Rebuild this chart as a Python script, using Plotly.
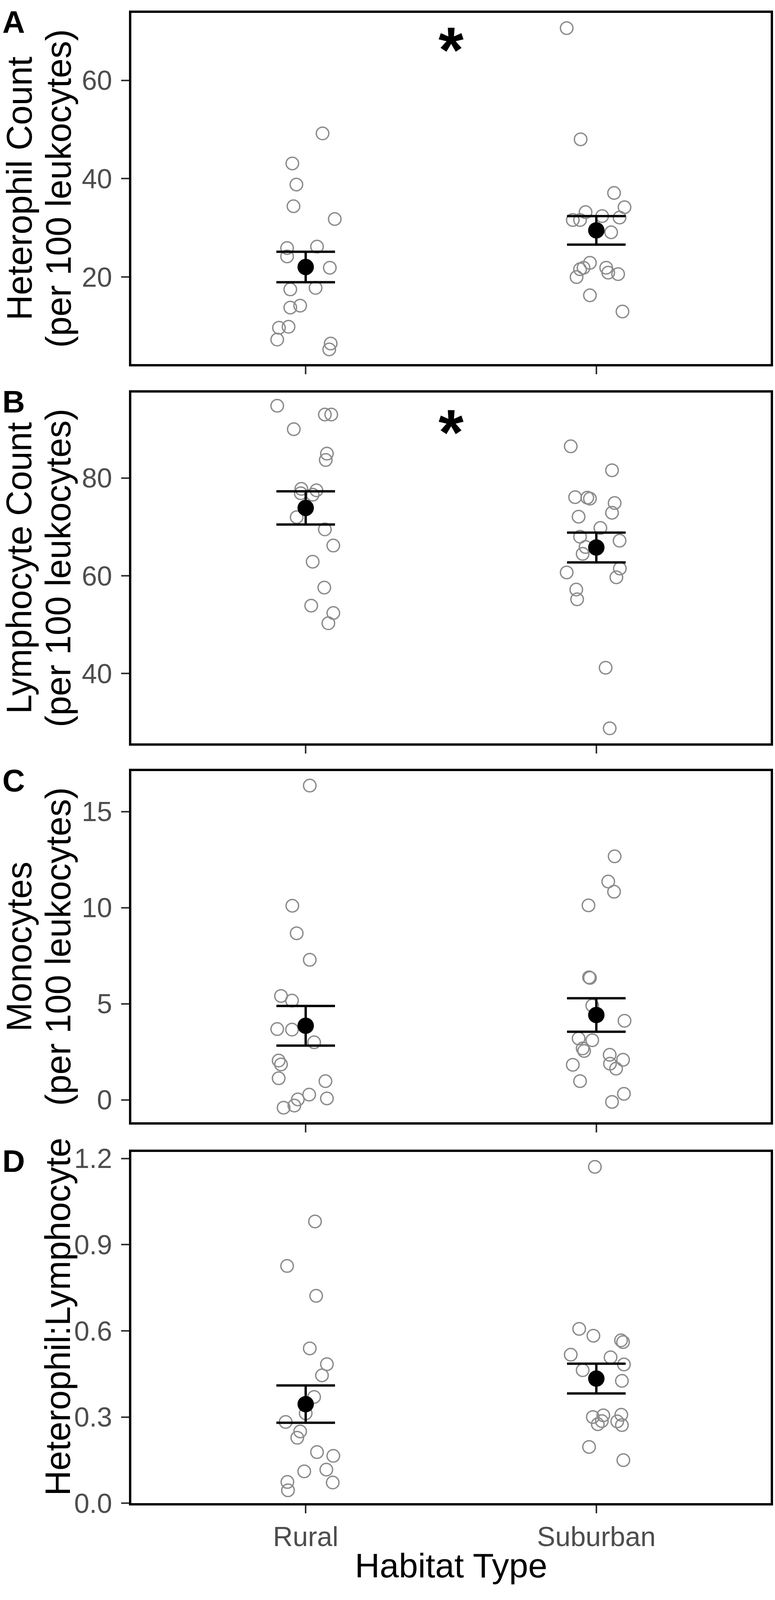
import plotly.graph_objects as go

W, H = 1983, 4389

# ---- data ----
categories = ["Rural", "Suburban"]

# A: heterophils
het_rural = [49.2, 43.1, 38.8, 34.4, 31.8, 25.9, 26.2, 24.2, 21.9, 17.5, 17.8, 14.2, 13.8, 9.9, 9.7, 7.3, 6.5, 5.3]
het_rural_jit = [0.058, -0.046, -0.032, -0.042, 0.100, -0.064, 0.039, -0.064, 0.083, -0.053, 0.034, -0.019, -0.053, -0.059, -0.092, -0.098, 0.086, 0.081]
het_sub = [70.6, 48.0, 37.1, 34.2, 33.2, 31.6, 31.6, 32.4, 32.1, 29.1, 22.9, 21.6, 21.9, 21.9, 20.9, 20.6, 20.0, 16.3, 13.0]
het_sub_jit = [-0.102, -0.054, 0.061, 0.097, -0.037, -0.081, -0.056, 0.020, 0.080, 0.051, -0.022, -0.056, -0.044, 0.034, 0.041, 0.075, -0.068, -0.022, 0.090]
het_mean = [22.05, 29.5]
het_se = [3.1, 2.9]

# B: lymphocytes
lym_rural = [94.8, 93.0, 93.0, 90.0, 85.0, 83.7, 77.8, 77.5, 76.9, 76.6, 72.0, 69.5, 66.2, 62.9, 57.6, 53.9, 52.4, 50.3]
lym_rural_jit = [-0.098, 0.066, 0.088, -0.041, 0.073, 0.069, -0.015, 0.037, -0.017, 0.024, -0.031, 0.066, 0.095, 0.024, 0.064, 0.019, 0.095, 0.078]
lym_sub = [86.5, 81.6, 76.1, 76.0, 75.8, 74.9, 72.9, 72.1, 69.8, 68.0, 67.2, 65.9, 64.5, 61.5, 60.7, 59.7, 57.2, 55.2, 41.2, 28.8]
lym_sub_jit = [-0.088, 0.054, -0.073, -0.031, -0.022, 0.063, 0.054, -0.061, 0.014, -0.056, 0.080, -0.037, -0.047, 0.081, -0.102, 0.069, -0.069, -0.066, 0.032, 0.046]
lym_mean = [73.9, 65.8]
lym_se = [3.4, 3.05]

# C: monocytes
mon_rural = [16.35, 10.1, 8.67, 7.29, 5.41, 5.17, 3.69, 3.66, 3.0, 2.05, 1.85, 1.13, 0.98, 0.28, 0.03, 0.08, -0.29, -0.40]
mon_rural_jit = [0.014, -0.046, -0.031, 0.014, -0.085, -0.047, -0.098, -0.047, 0.029, -0.093, -0.085, -0.093, 0.068, 0.012, -0.027, 0.073, -0.039, -0.076]
mon_sub = [12.67, 11.36, 10.83, 10.12, 6.38, 6.35, 4.91, 4.12, 3.2, 3.11, 2.68, 2.55, 2.35, 2.09, 1.89, 1.63, 1.83, 0.98, 0.32, -0.10]
mon_sub_jit = [0.063, 0.041, 0.061, -0.027, -0.025, -0.022, -0.014, 0.097, -0.061, -0.014, -0.047, -0.042, 0.046, 0.092, 0.047, 0.068, -0.081, -0.056, 0.095, 0.054]
mon_mean = [3.86, 4.42]
mon_se = [1.03, 0.87]

# D: H:L ratio
hl_rural = [0.981, 0.826, 0.722, 0.539, 0.484, 0.445, 0.370, 0.313, 0.283, 0.250, 0.228, 0.178, 0.165, 0.117, 0.111, 0.074, 0.072, 0.045]
hl_rural_jit = [0.032, -0.064, 0.036, 0.014, 0.073, 0.056, 0.029, 0.0, -0.069, -0.019, -0.029, 0.039, 0.095, 0.071, -0.005, -0.063, 0.093, -0.061]
hl_sub = [1.171, 0.607, 0.583, 0.567, 0.561, 0.517, 0.508, 0.483, 0.463, 0.426, 0.306, 0.300, 0.308, 0.286, 0.275, 0.285, 0.272, 0.196, 0.150]
hl_sub_jit = [-0.005, -0.059, -0.010, 0.085, 0.092, -0.088, 0.049, 0.095, -0.047, 0.088, 0.024, -0.012, 0.086, 0.019, 0.005, 0.072, 0.088, -0.025, 0.093]
hl_mean = [0.345, 0.434]
hl_se = [0.065, 0.052]

panels = [
    dict(letter="A", rural=het_rural, rjit=het_rural_jit, sub=het_sub, sjit=het_sub_jit,
         mean=het_mean, se=het_se, yrange=[2.3, 73.7], ticks=[20, 40, 60], fmt="",
         title=["Heterophil Count", "(per 100 leukocytes)"], star=67.5, top=13, bottom=991),
    dict(letter="B", rural=lym_rural, rjit=lym_rural_jit, sub=lym_sub, sjit=lym_sub_jit,
         mean=lym_mean, se=lym_se, yrange=[25.7, 97.5], ticks=[40, 60, 80], fmt="",
         title=["Lymphocyte Count", "(per 100 leukocytes)"], star=90.7, top=1070, bottom=2047),
    dict(letter="C", rural=mon_rural, rjit=mon_rural_jit, sub=mon_sub, sjit=mon_sub_jit,
         mean=mon_mean, se=mon_se, yrange=[-1.15, 17.1], ticks=[0, 5, 10, 15], fmt="",
         title=["Monocytes", "(per 100 leukocytes)"], star=None, top=2124, bottom=3101),
    dict(letter="D", rural=hl_rural, rjit=hl_rural_jit, sub=hl_sub, sjit=hl_sub_jit,
         mean=hl_mean, se=hl_se, yrange=[0, 1.223], ticks=[0, 0.3, 0.6, 0.9, 1.2], fmt=".1f",
         title=["Heterophil:Lymphocyte"], star=None, top=3184, bottom=4162),
]

FONT = "Liberation Sans"
TICKCOL = "#4d4d4d"
PTCOL = "#8c8c8c"


def py(p):
    return 1 - p / H


fig = go.Figure()
annotations = []
layout = {}

for i, p in enumerate(panels, start=1):
    xa, ya = "x%d" % i, "y%d" % i
    fig.add_trace(go.Scatter(
        x=[1 + j for j in p["rjit"]], y=p["rural"], xaxis=xa, yaxis=ya, mode="markers",
        marker=dict(symbol="circle-open", size=32, color=PTCOL, line=dict(width=3.5)),
        showlegend=False, hoverinfo="y"))
    fig.add_trace(go.Scatter(
        x=[2 + j for j in p["sjit"]], y=p["sub"], xaxis=xa, yaxis=ya, mode="markers",
        marker=dict(symbol="circle-open", size=32, color=PTCOL, line=dict(width=3.5)),
        showlegend=False, hoverinfo="y"))
    fig.add_trace(go.Scatter(
        x=[1, 2], y=p["mean"], xaxis=xa, yaxis=ya, mode="markers",
        marker=dict(size=42, color="black"),
        error_y=dict(type="data", array=p["se"], color="black", thickness=6, width=75),
        showlegend=False))

    suffix = "" if i == 1 else str(i)
    layout["xaxis" + suffix] = dict(
        domain=[336 / W, 1972 / W], range=[0.4, 2.6], anchor=ya,
        tickvals=[1, 2], ticktext=categories, showticklabels=(i == 4),
        ticks="outside", ticklen=20, tickwidth=4, tickcolor="#333333",
        showline=True, mirror=True, linecolor="black", linewidth=6,
        showgrid=False, zeroline=False, fixedrange=True,
        tickfont=dict(family=FONT, size=70, color=TICKCOL))
    layout["yaxis" + suffix] = dict(
        domain=[py(p["bottom"]), py(p["top"])], range=p["yrange"], anchor=xa,
        tickvals=p["ticks"], tickformat=p["fmt"],
        ticks="outside", ticklen=20, tickwidth=4, tickcolor="#333333",
        ticklabelstandoff=9,
        showline=True, mirror=True, linecolor="black", linewidth=6,
        showgrid=False, zeroline=False, fixedrange=True,
        tickfont=dict(family=FONT, size=70, color=TICKCOL))

    mid = (p["top"] + p["bottom"]) / 2
    # panel letter, kept a fixed number of pixels below the panel top
    annotations.append(dict(
        text="<b>%s</b>" % p["letter"], xref="paper", yref="paper",
        x=4 / W, y=py(p["top"]), yshift=-24, xanchor="left", yanchor="middle",
        showarrow=False, font=dict(family=FONT, size=80, color="black")))
    # y axis title, one annotation per line
    if len(p["title"]) == 2:
        centers = [49.5, 149.5]
        ymid = py(mid)
    else:
        centers = [147.5]
        ymid = py(mid - 30)
    for txt, cx in zip(p["title"], centers):
        annotations.append(dict(
            text=txt, xref="paper", yref="paper", x=cx / W, y=ymid,
            xanchor="center", yanchor="middle", textangle=-90, showarrow=False,
            font=dict(family=FONT, size=90, color="black")))
    if p["star"] is not None:
        annotations.append(dict(
            text="<b>*</b>", xref=xa, yref=ya, x=1.5, y=p["star"],
            xanchor="center", yanchor="middle", showarrow=False, yshift=-17,
            font=dict(family=FONT, size=165, color="black")))

# x title sits a fixed distance below the bottom panel
annotations.append(dict(
    text="Habitat Type", xref="paper", yref="paper", x=(336 + 1972) / 2 / W,
    y=py(panels[-1]["bottom"]), yshift=-159,
    xanchor="center", yanchor="middle", showarrow=False,
    font=dict(family=FONT, size=88, color="black")))

fig.update_layout(
    autosize=True, margin=dict(l=0, r=0, t=0, b=0),
    paper_bgcolor="white", plot_bgcolor="white",
    annotations=annotations, **layout)

# let the figure fill the window exactly, without page margins or scrollbars
fit_page = (
    "document.documentElement.style.margin='0';"
    "document.documentElement.style.overflow='hidden';"
    "document.body.style.margin='0';"
    "document.body.style.overflow='hidden';"
    "Plotly.Plots.resize(document.getElementById('{plot_id}'));"
)

fig.write_html("out.html", default_width="100vw", default_height="100vh",
               config={"responsive": True, "displayModeBar": False},
               post_script=fit_page)
